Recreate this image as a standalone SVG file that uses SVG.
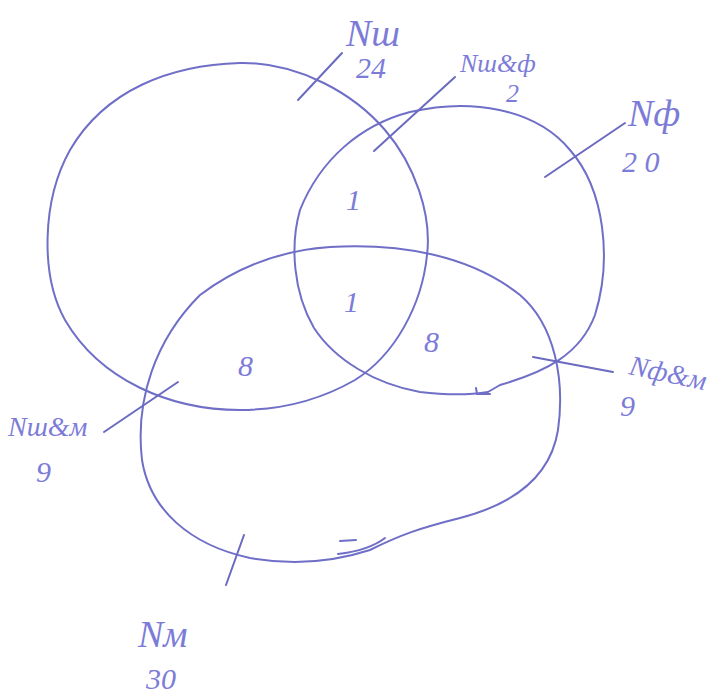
<svg xmlns="http://www.w3.org/2000/svg" width="718" height="694" viewBox="0 0 718 694">
<style>
.c{fill:none;stroke:#6f6fc8;stroke-width:2;stroke-linecap:round;stroke-linejoin:round}
.l{fill:none;stroke:#6a6ac0;stroke-width:2;stroke-linecap:round}
text{font-family:"Liberation Serif","DejaVu Serif",serif;font-style:italic;fill:#7c7cd8}
.big{font-size:38px}
.mid{font-size:30px}
.sm{font-size:26px}
</style>
<rect width="718" height="694" fill="#ffffff"/>
<g id="set-sh">
<path class="c" d="M385,130 C415,165 432,215 427,255 C422,305 395,355 355,380 C320,400 280,410 240,410 C170,410 100,380 65,320 C40,275 42,200 70,150 C105,90 170,65 240,63 C300,62 355,95 385,130 Z"/>
</g>
<g id="set-f">
<path class="c" d="M300,210 C320,160 360,125 410,112 C470,98 535,108 570,150 C605,190 612,260 595,315 C580,355 545,372 500,385 L488,392 C470,395 445,395 420,392 C375,384 335,360 314,328 C293,292 290,245 300,210 Z"/>
<path class="c" d="M476,388 L477,394 L490,394"/>
</g>
<g id="set-m">
<path class="c" d="M330,247 C400,243 470,255 520,295 C555,325 565,380 558,430 C550,480 510,505 460,518 C420,528 400,535 370,550 C330,563 290,565 250,558 C190,545 150,510 142,460 C135,400 155,340 200,295 C240,265 285,250 330,247 Z"/>
<path class="c" d="M340,541 L356,540 M338,554 C355,552 372,548 385,538"/>
</g>
<g id="connectors">
<line class="l" x1="298" y1="100" x2="342" y2="53"/>
<line class="l" x1="374" y1="151" x2="455" y2="77"/>
<line class="l" x1="545" y1="177" x2="625" y2="123"/>
<line class="l" x1="533" y1="357" x2="613" y2="372"/>
<line class="l" x1="104" y1="432" x2="178" y2="382"/>
<line class="l" x1="226" y1="585" x2="244" y2="535"/>
</g>
<g id="labels">
<text class="big" x="346" y="46">Nш</text>
<text class="mid" x="356" y="78">24</text>
<text class="sm" x="460" y="72">Nш&amp;ф</text>
<text class="sm" x="506" y="102">2</text>
<text class="big" x="628" y="126">Nф</text>
<text class="mid" x="622" y="172">2 0</text>
<text class="sm" x="628" y="374" transform="rotate(12 628 374)" style="font-size:28px">Nф&amp;м</text>
<text class="mid" x="620" y="416">9</text>
<text class="sm" x="8" y="436" style="font-size:28px">Nш&amp;м</text>
<text class="mid" x="36" y="482">9</text>
<text class="big" x="138" y="647">Nм</text>
<text class="mid" x="146" y="689">30</text>
<text class="mid" x="346" y="210">1</text>
<text class="mid" x="344" y="312">1</text>
<text class="mid" x="238" y="376">8</text>
<text class="mid" x="424" y="352">8</text>
</g>
</svg>
